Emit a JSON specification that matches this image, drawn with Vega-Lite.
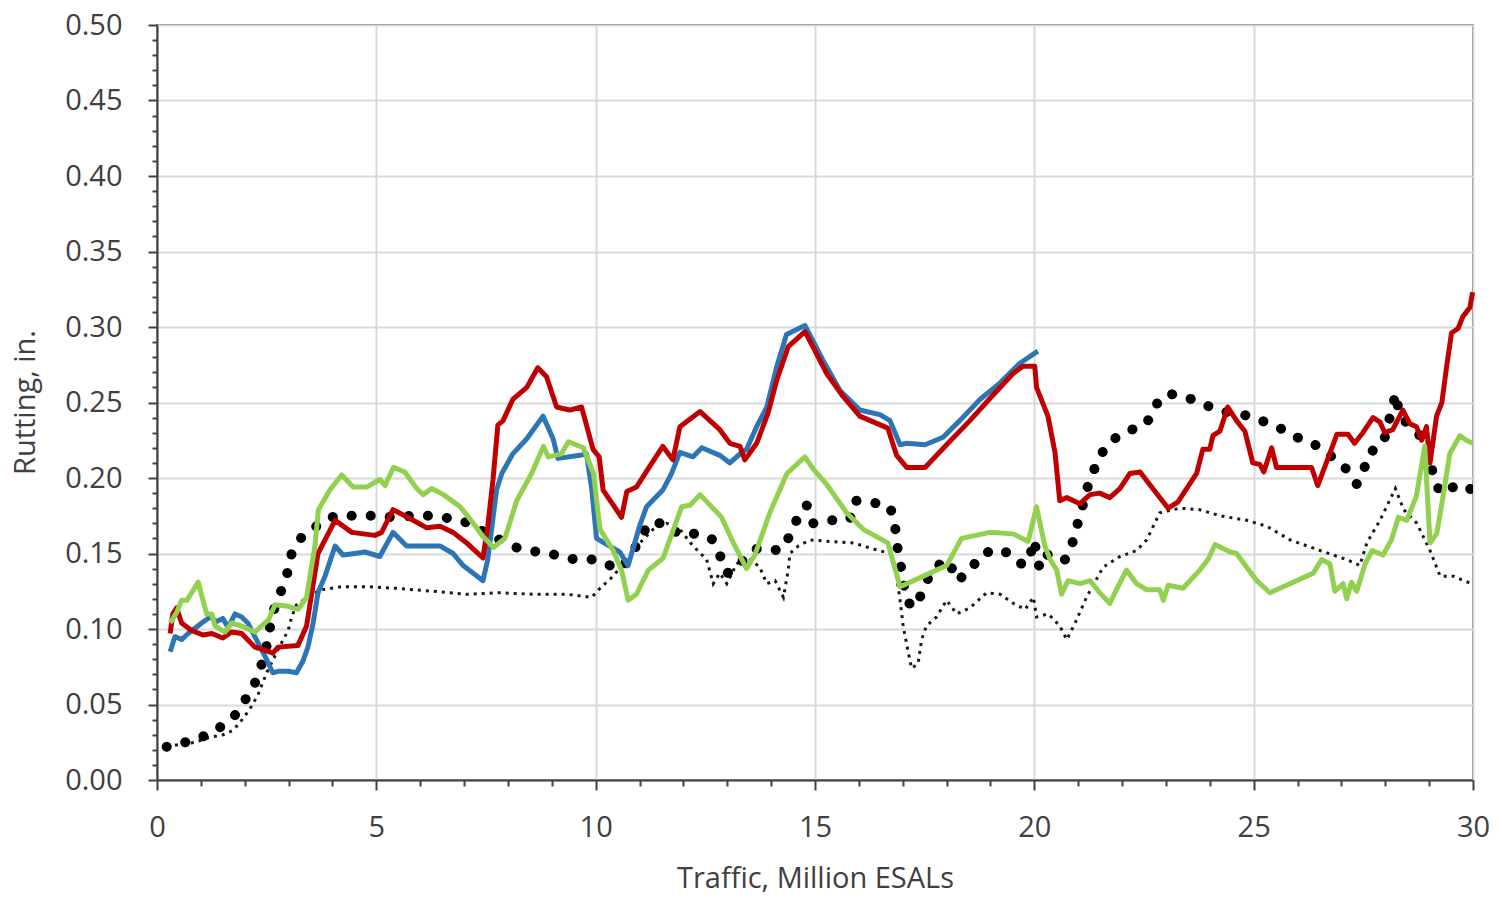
{
"$schema": "https://vega.github.io/schema/vega-lite/v6.json",
"width": 1316, "height": 755,
"autosize": {"type": "none"},
"padding": {"left": 157, "top": 25, "right": 26, "bottom": 121},
"background": "white",
"config": {"view": {"stroke": "#404040", "strokeWidth": 1.5}, "font": "Open Sans"},
"datasets": {
"blue": [{"x":0.30,"y":0.085},{"x":0.41,"y":0.095},{"x":0.56,"y":0.093},{"x":0.71,"y":0.097},{"x":1.02,"y":0.104},{"x":1.21,"y":0.108},{"x":1.36,"y":0.105},{"x":1.50,"y":0.107},{"x":1.62,"y":0.101},{"x":1.78,"y":0.110},{"x":1.93,"y":0.108},{"x":2.07,"y":0.104},{"x":2.23,"y":0.095},{"x":2.46,"y":0.082},{"x":2.64,"y":0.071},{"x":2.76,"y":0.072},{"x":2.99,"y":0.072},{"x":3.18,"y":0.071},{"x":3.33,"y":0.079},{"x":3.44,"y":0.088},{"x":3.56,"y":0.104},{"x":3.67,"y":0.124},{"x":3.83,"y":0.135},{"x":4.06,"y":0.155},{"x":4.24,"y":0.149},{"x":4.51,"y":0.150},{"x":4.74,"y":0.151},{"x":4.97,"y":0.149},{"x":5.08,"y":0.148},{"x":5.38,"y":0.164},{"x":5.69,"y":0.155},{"x":5.99,"y":0.155},{"x":6.45,"y":0.155},{"x":6.75,"y":0.150},{"x":6.98,"y":0.142},{"x":7.43,"y":0.132},{"x":7.54,"y":0.146},{"x":7.74,"y":0.192},{"x":7.86,"y":0.203},{"x":8.11,"y":0.216},{"x":8.43,"y":0.226},{"x":8.80,"y":0.241},{"x":9.03,"y":0.226},{"x":9.14,"y":0.213},{"x":9.64,"y":0.215},{"x":9.79,"y":0.216},{"x":9.91,"y":0.193},{"x":10.02,"y":0.160},{"x":10.25,"y":0.156},{"x":10.55,"y":0.151},{"x":10.74,"y":0.142},{"x":11.01,"y":0.169},{"x":11.16,"y":0.181},{"x":11.53,"y":0.192},{"x":11.73,"y":0.203},{"x":11.92,"y":0.217},{"x":12.22,"y":0.214},{"x":12.42,"y":0.220},{"x":12.83,"y":0.215},{"x":13.06,"y":0.210},{"x":13.29,"y":0.216},{"x":13.44,"y":0.219},{"x":13.67,"y":0.234},{"x":13.90,"y":0.247},{"x":14.13,"y":0.274},{"x":14.35,"y":0.295},{"x":14.77,"y":0.301},{"x":14.95,"y":0.291},{"x":15.18,"y":0.278},{"x":15.57,"y":0.258},{"x":16.02,"y":0.245},{"x":16.48,"y":0.242},{"x":16.71,"y":0.238},{"x":16.94,"y":0.222},{"x":17.09,"y":0.223},{"x":17.51,"y":0.222},{"x":17.92,"y":0.227},{"x":18.30,"y":0.238},{"x":18.76,"y":0.252},{"x":19.22,"y":0.263},{"x":19.67,"y":0.276},{"x":20.08,"y":0.284}],
"red": [{"x":0.30,"y":0.097},{"x":0.36,"y":0.110},{"x":0.45,"y":0.114},{"x":0.56,"y":0.104},{"x":0.79,"y":0.099},{"x":1.05,"y":0.096},{"x":1.25,"y":0.097},{"x":1.50,"y":0.094},{"x":1.70,"y":0.098},{"x":1.93,"y":0.097},{"x":2.23,"y":0.088},{"x":2.46,"y":0.086},{"x":2.64,"y":0.084},{"x":2.76,"y":0.088},{"x":3.21,"y":0.089},{"x":3.41,"y":0.102},{"x":3.67,"y":0.150},{"x":3.83,"y":0.159},{"x":4.06,"y":0.172},{"x":4.44,"y":0.164},{"x":4.97,"y":0.162},{"x":5.12,"y":0.164},{"x":5.38,"y":0.179},{"x":5.65,"y":0.175},{"x":5.84,"y":0.172},{"x":6.15,"y":0.167},{"x":6.45,"y":0.168},{"x":6.75,"y":0.164},{"x":7.06,"y":0.157},{"x":7.43,"y":0.147},{"x":7.54,"y":0.168},{"x":7.66,"y":0.199},{"x":7.77,"y":0.235},{"x":7.89,"y":0.238},{"x":8.11,"y":0.252},{"x":8.43,"y":0.260},{"x":8.68,"y":0.273},{"x":8.88,"y":0.267},{"x":9.11,"y":0.247},{"x":9.25,"y":0.246},{"x":9.41,"y":0.245},{"x":9.68,"y":0.247},{"x":9.94,"y":0.219},{"x":10.08,"y":0.214},{"x":10.17,"y":0.192},{"x":10.59,"y":0.174},{"x":10.71,"y":0.191},{"x":10.93,"y":0.194},{"x":11.24,"y":0.208},{"x":11.53,"y":0.221},{"x":11.76,"y":0.212},{"x":11.92,"y":0.234},{"x":12.38,"y":0.244},{"x":12.83,"y":0.232},{"x":13.06,"y":0.223},{"x":13.29,"y":0.221},{"x":13.40,"y":0.212},{"x":13.67,"y":0.223},{"x":13.93,"y":0.243},{"x":14.13,"y":0.265},{"x":14.39,"y":0.287},{"x":14.77,"y":0.297},{"x":14.95,"y":0.287},{"x":15.27,"y":0.269},{"x":15.64,"y":0.254},{"x":16.02,"y":0.241},{"x":16.66,"y":0.233},{"x":16.86,"y":0.215},{"x":17.09,"y":0.207},{"x":17.51,"y":0.207},{"x":18.00,"y":0.222},{"x":18.53,"y":0.238},{"x":19.06,"y":0.255},{"x":19.51,"y":0.269},{"x":19.74,"y":0.274},{"x":20.01,"y":0.274},{"x":20.05,"y":0.260},{"x":20.31,"y":0.241},{"x":20.47,"y":0.217},{"x":20.58,"y":0.185},{"x":20.74,"y":0.187},{"x":21.04,"y":0.183},{"x":21.27,"y":0.189},{"x":21.49,"y":0.190},{"x":21.72,"y":0.187},{"x":21.95,"y":0.193},{"x":22.18,"y":0.203},{"x":22.41,"y":0.204},{"x":22.70,"y":0.193},{"x":23.05,"y":0.180},{"x":23.27,"y":0.184},{"x":23.70,"y":0.203},{"x":23.84,"y":0.219},{"x":24.00,"y":0.219},{"x":24.07,"y":0.228},{"x":24.23,"y":0.231},{"x":24.41,"y":0.247},{"x":24.61,"y":0.238},{"x":24.80,"y":0.231},{"x":24.98,"y":0.210},{"x":25.14,"y":0.209},{"x":25.23,"y":0.204},{"x":25.41,"y":0.220},{"x":25.52,"y":0.207},{"x":26.32,"y":0.207},{"x":26.46,"y":0.195},{"x":26.72,"y":0.215},{"x":26.90,"y":0.229},{"x":27.15,"y":0.229},{"x":27.30,"y":0.223},{"x":27.49,"y":0.230},{"x":27.72,"y":0.240},{"x":27.88,"y":0.237},{"x":27.99,"y":0.230},{"x":28.17,"y":0.232},{"x":28.40,"y":0.245},{"x":28.56,"y":0.236},{"x":28.71,"y":0.234},{"x":28.83,"y":0.225},{"x":28.94,"y":0.234},{"x":29.02,"y":0.210},{"x":29.17,"y":0.241},{"x":29.29,"y":0.250},{"x":29.40,"y":0.274},{"x":29.51,"y":0.296},{"x":29.66,"y":0.299},{"x":29.77,"y":0.307},{"x":29.93,"y":0.313},{"x":29.99,"y":0.323}],
"green": [{"x":0.30,"y":0.104},{"x":0.45,"y":0.111},{"x":0.56,"y":0.119},{"x":0.68,"y":0.119},{"x":0.94,"y":0.131},{"x":1.13,"y":0.110},{"x":1.25,"y":0.110},{"x":1.32,"y":0.102},{"x":1.55,"y":0.098},{"x":1.70,"y":0.104},{"x":1.93,"y":0.102},{"x":2.23,"y":0.098},{"x":2.54,"y":0.106},{"x":2.69,"y":0.116},{"x":2.99,"y":0.115},{"x":3.22,"y":0.113},{"x":3.41,"y":0.121},{"x":3.60,"y":0.155},{"x":3.68,"y":0.179},{"x":3.94,"y":0.192},{"x":4.21,"y":0.202},{"x":4.47,"y":0.194},{"x":4.78,"y":0.194},{"x":5.08,"y":0.199},{"x":5.20,"y":0.195},{"x":5.39,"y":0.207},{"x":5.65,"y":0.204},{"x":5.92,"y":0.193},{"x":6.07,"y":0.189},{"x":6.26,"y":0.193},{"x":6.53,"y":0.189},{"x":6.91,"y":0.181},{"x":7.21,"y":0.170},{"x":7.44,"y":0.161},{"x":7.67,"y":0.154},{"x":7.93,"y":0.160},{"x":8.20,"y":0.185},{"x":8.54,"y":0.203},{"x":8.81,"y":0.221},{"x":8.92,"y":0.214},{"x":9.22,"y":0.216},{"x":9.38,"y":0.224},{"x":9.72,"y":0.220},{"x":9.95,"y":0.203},{"x":10.10,"y":0.166},{"x":10.40,"y":0.152},{"x":10.59,"y":0.139},{"x":10.74,"y":0.119},{"x":10.93,"y":0.123},{"x":11.20,"y":0.139},{"x":11.54,"y":0.147},{"x":11.96,"y":0.181},{"x":12.15,"y":0.182},{"x":12.38,"y":0.189},{"x":12.87,"y":0.174},{"x":13.14,"y":0.157},{"x":13.44,"y":0.140},{"x":13.63,"y":0.149},{"x":13.97,"y":0.177},{"x":14.36,"y":0.203},{"x":14.77,"y":0.214},{"x":14.96,"y":0.206},{"x":15.26,"y":0.196},{"x":15.72,"y":0.177},{"x":16.10,"y":0.166},{"x":16.66,"y":0.157},{"x":16.94,"y":0.128},{"x":17.47,"y":0.135},{"x":18.00,"y":0.142},{"x":18.34,"y":0.160},{"x":18.99,"y":0.164},{"x":19.52,"y":0.163},{"x":19.86,"y":0.158},{"x":20.05,"y":0.181},{"x":20.24,"y":0.155},{"x":20.36,"y":0.146},{"x":20.51,"y":0.139},{"x":20.62,"y":0.123},{"x":20.77,"y":0.132},{"x":21.04,"y":0.130},{"x":21.27,"y":0.132},{"x":21.49,"y":0.124},{"x":21.72,"y":0.117},{"x":21.87,"y":0.126},{"x":22.10,"y":0.139},{"x":22.33,"y":0.130},{"x":22.56,"y":0.126},{"x":22.86,"y":0.126},{"x":22.94,"y":0.119},{"x":23.05,"y":0.129},{"x":23.39,"y":0.127},{"x":23.77,"y":0.139},{"x":23.96,"y":0.146},{"x":24.12,"y":0.156},{"x":24.46,"y":0.151},{"x":24.61,"y":0.150},{"x":25.07,"y":0.132},{"x":25.37,"y":0.124},{"x":25.75,"y":0.129},{"x":26.36,"y":0.137},{"x":26.55,"y":0.146},{"x":26.74,"y":0.143},{"x":26.85,"y":0.125},{"x":27.04,"y":0.130},{"x":27.12,"y":0.120},{"x":27.23,"y":0.131},{"x":27.35,"y":0.125},{"x":27.54,"y":0.143},{"x":27.70,"y":0.152},{"x":27.95,"y":0.149},{"x":28.14,"y":0.159},{"x":28.30,"y":0.174},{"x":28.49,"y":0.172},{"x":28.71,"y":0.188},{"x":28.90,"y":0.221},{"x":29.02,"y":0.157},{"x":29.17,"y":0.163},{"x":29.28,"y":0.181},{"x":29.47,"y":0.216},{"x":29.70,"y":0.228},{"x":29.85,"y":0.225},{"x":29.99,"y":0.223}],
"dots": [{"x":0.22,"y":0.022},{"x":0.64,"y":0.025},{"x":1.06,"y":0.029},{"x":1.44,"y":0.035},{"x":1.78,"y":0.043},{"x":2.01,"y":0.053},{"x":2.23,"y":0.064},{"x":2.39,"y":0.077},{"x":2.50,"y":0.089},{"x":2.63,"y":0.110},{"x":2.84,"y":0.126},{"x":2.98,"y":0.138},{"x":3.07,"y":0.150},{"x":3.30,"y":0.161},{"x":3.68,"y":0.169},{"x":4.06,"y":0.175},{"x":4.51,"y":0.175},{"x":4.93,"y":0.175},{"x":5.39,"y":0.174},{"x":5.84,"y":0.175},{"x":6.30,"y":0.175},{"x":6.72,"y":0.173},{"x":7.13,"y":0.170},{"x":7.52,"y":0.163},{"x":7.89,"y":0.158},{"x":8.27,"y":0.153},{"x":8.69,"y":0.151},{"x":9.11,"y":0.149},{"x":9.53,"y":0.146},{"x":9.98,"y":0.146},{"x":10.33,"y":0.142},{"x":10.60,"y":0.140},{"x":11.01,"y":0.159},{"x":11.20,"y":0.170},{"x":11.58,"y":0.170},{"x":11.88,"y":0.163},{"x":12.30,"y":0.163},{"x":12.64,"y":0.160},{"x":12.83,"y":0.149},{"x":12.99,"y":0.137},{"x":13.10,"y":0.138},{"x":13.63,"y":0.153},{"x":13.93,"y":0.153},{"x":14.20,"y":0.152},{"x":14.39,"y":0.160},{"x":14.58,"y":0.172},{"x":14.81,"y":0.182},{"x":14.96,"y":0.170},{"x":15.38,"y":0.172},{"x":15.80,"y":0.173},{"x":15.91,"y":0.185},{"x":16.29,"y":0.184},{"x":16.71,"y":0.181},{"x":16.82,"y":0.170},{"x":16.86,"y":0.157},{"x":16.94,"y":0.145},{"x":17.01,"y":0.132},{"x":17.09,"y":0.119},{"x":17.24,"y":0.114},{"x":17.39,"y":0.121},{"x":17.66,"y":0.139},{"x":18.00,"y":0.146},{"x":18.11,"y":0.141},{"x":18.23,"y":0.132},{"x":18.53,"y":0.138},{"x":18.76,"y":0.149},{"x":19.14,"y":0.153},{"x":19.44,"y":0.150},{"x":19.75,"y":0.142},{"x":19.94,"y":0.152},{"x":20.01,"y":0.159},{"x":20.05,"y":0.147},{"x":20.13,"y":0.140},{"x":20.32,"y":0.150},{"x":20.70,"y":0.146},{"x":20.85,"y":0.155},{"x":20.96,"y":0.167},{"x":21.08,"y":0.179},{"x":21.19,"y":0.192},{"x":21.34,"y":0.204},{"x":21.50,"y":0.215},{"x":21.76,"y":0.225},{"x":22.14,"y":0.231},{"x":22.56,"y":0.236},{"x":22.75,"y":0.248},{"x":23.05,"y":0.256},{"x":23.51,"y":0.253},{"x":23.93,"y":0.248},{"x":24.31,"y":0.244},{"x":24.76,"y":0.242},{"x":25.18,"y":0.238},{"x":25.60,"y":0.233},{"x":25.98,"y":0.227},{"x":26.40,"y":0.222},{"x":26.74,"y":0.215},{"x":27.08,"y":0.207},{"x":27.35,"y":0.196},{"x":27.50,"y":0.204},{"x":27.61,"y":0.216},{"x":27.95,"y":0.223},{"x":28.07,"y":0.235},{"x":28.14,"y":0.247},{"x":28.26,"y":0.256},{"x":28.30,"y":0.243},{"x":28.53,"y":0.235},{"x":28.87,"y":0.226},{"x":29.10,"y":0.202},{"x":29.25,"y":0.190},{"x":29.55,"y":0.194},{"x":29.93,"y":0.194},{"x":30.00,"y":0.183}],
"thin": [{"x":0.41,"y":0.023},{"x":0.87,"y":0.025},{"x":1.17,"y":0.028},{"x":1.51,"y":0.030},{"x":1.74,"y":0.033},{"x":1.97,"y":0.041},{"x":2.16,"y":0.049},{"x":2.31,"y":0.057},{"x":2.39,"y":0.063},{"x":2.50,"y":0.071},{"x":2.77,"y":0.087},{"x":2.88,"y":0.093},{"x":2.99,"y":0.099},{"x":3.07,"y":0.108},{"x":3.18,"y":0.116},{"x":3.33,"y":0.119},{"x":3.53,"y":0.123},{"x":3.75,"y":0.126},{"x":4.21,"y":0.128},{"x":4.82,"y":0.128},{"x":5.43,"y":0.127},{"x":6.30,"y":0.125},{"x":7.06,"y":0.123},{"x":7.82,"y":0.124},{"x":8.58,"y":0.123},{"x":9.34,"y":0.123},{"x":9.91,"y":0.121},{"x":10.10,"y":0.127},{"x":10.40,"y":0.135},{"x":10.71,"y":0.146},{"x":11.01,"y":0.157},{"x":11.31,"y":0.166},{"x":11.62,"y":0.170},{"x":11.92,"y":0.166},{"x":12.22,"y":0.155},{"x":12.53,"y":0.146},{"x":12.68,"y":0.130},{"x":12.83,"y":0.137},{"x":12.99,"y":0.130},{"x":13.21,"y":0.143},{"x":13.44,"y":0.148},{"x":13.74,"y":0.141},{"x":13.90,"y":0.130},{"x":14.09,"y":0.132},{"x":14.28,"y":0.121},{"x":14.39,"y":0.139},{"x":14.43,"y":0.150},{"x":14.62,"y":0.155},{"x":14.89,"y":0.159},{"x":15.34,"y":0.158},{"x":15.87,"y":0.157},{"x":16.33,"y":0.153},{"x":16.71,"y":0.150},{"x":16.86,"y":0.135},{"x":16.94,"y":0.119},{"x":17.01,"y":0.102},{"x":17.13,"y":0.084},{"x":17.20,"y":0.074},{"x":17.35,"y":0.077},{"x":17.43,"y":0.093},{"x":17.54,"y":0.102},{"x":17.77,"y":0.108},{"x":18.00,"y":0.119},{"x":18.23,"y":0.110},{"x":18.53,"y":0.114},{"x":18.91,"y":0.124},{"x":19.22,"y":0.123},{"x":19.52,"y":0.117},{"x":19.79,"y":0.113},{"x":19.98,"y":0.121},{"x":20.05,"y":0.108},{"x":20.32,"y":0.110},{"x":20.58,"y":0.102},{"x":20.74,"y":0.093},{"x":20.93,"y":0.104},{"x":21.19,"y":0.121},{"x":21.57,"y":0.141},{"x":21.95,"y":0.148},{"x":22.33,"y":0.152},{"x":22.56,"y":0.159},{"x":22.86,"y":0.177},{"x":23.32,"y":0.180},{"x":23.77,"y":0.179},{"x":24.23,"y":0.175},{"x":24.84,"y":0.172},{"x":25.30,"y":0.168},{"x":25.83,"y":0.159},{"x":26.51,"y":0.152},{"x":27.12,"y":0.146},{"x":27.42,"y":0.142},{"x":27.58,"y":0.157},{"x":27.88,"y":0.172},{"x":28.23,"y":0.193},{"x":28.42,"y":0.179},{"x":28.72,"y":0.170},{"x":29.02,"y":0.152},{"x":29.25,"y":0.135},{"x":29.55,"y":0.135},{"x":29.96,"y":0.130}]
},
"encoding": {
"x": {"field": "x", "type": "quantitative",
 "scale": {"domain": [0, 30], "nice": false, "zero": false},
 "axis": {"title": "Traffic, Million ESALs",
  "values": [0,1,2,3,4,5,6,7,8,9,10,11,12,13,14,15,16,17,18,19,20,21,22,23,24,25,26,27,28,29,30],
  "labelExpr": "datum.value % 5 === 0 ? datum.label : ''",
  "grid": true, "gridColor": "#d9d9d9", "gridWidth": 2,
  "gridOpacity": {"condition": {"test": "datum.value % 5 === 0", "value": 1}, "value": 0},
  "tickSize": {"condition": {"test": "datum.value % 5 === 0", "value": 10}, "value": 6},
  "tickColor": "#404040", "tickWidth": 2, "domainColor": "#404040", "domainWidth": 2,
  "labelFont": "Open Sans", "labelFontSize": 29, "labelColor": "#404040", "labelPadding": 23, "labelFlush": false,
  "titleFont": "Open Sans", "titleFontSize": 29, "titleFontWeight": "normal", "titleColor": "#404040",
  "titleX": 658, "titleY": 98, "titleBaseline": "middle", "titleAnchor": "middle", "titleAlign": "center"}},
"y": {"field": "y", "type": "quantitative",
 "scale": {"domain": [0, 0.5], "nice": false},
 "axis": {"title": "Rutting, in.",
  "values": [0,0.01,0.02,0.03,0.04,0.05,0.06,0.07,0.08,0.09,0.1,0.11,0.12,0.13,0.14,0.15,0.16,0.17,0.18,0.19,0.2,0.21,0.22,0.23,0.24,0.25,0.26,0.27,0.28,0.29,0.3,0.31,0.32,0.33,0.34,0.35,0.36,0.37,0.38,0.39,0.4,0.41,0.42,0.43,0.44,0.45,0.46,0.47,0.48,0.49,0.5],
  "labelExpr": "round(datum.value*100) % 5 === 0 ? format(datum.value, '.2f') : ''",
  "grid": true, "gridColor": "#d9d9d9", "gridWidth": 2,
  "gridOpacity": {"condition": {"test": "round(datum.value*100) % 5 === 0", "value": 1}, "value": 0},
  "tickSize": {"condition": {"test": "round(datum.value*100) % 5 === 0", "value": 9}, "value": 5},
  "tickColor": "#404040", "tickWidth": 2, "domainColor": "#404040", "domainWidth": 2,
  "labelFont": "Open Sans", "labelFontSize": 29, "labelColor": "#404040", "labelPadding": 26,
  "titleFont": "Open Sans", "titleFontSize": 29, "titleFontWeight": "normal", "titleColor": "#404040",
  "titleX": -132, "titleY": 377, "titleBaseline": "middle", "titleAnchor": "middle", "titleAlign": "center"}}
},
"layer": [
 {"data": {"name": "thin"}, "mark": {"type": "line", "color": "#1a1a1a", "strokeWidth": 3, "strokeDash": [3, 5], "clip": true}},
 {"data": {"name": "dots"}, "mark": {"type": "line", "color": "#000000", "strokeWidth": 10, "strokeDash": [0.1, 19], "strokeCap": "round", "clip": true}},
 {"data": {"name": "blue"}, "mark": {"type": "line", "color": "#2E75B6", "strokeWidth": 5, "strokeJoin": "round"}},
 {"data": {"name": "red"}, "mark": {"type": "line", "color": "#C00000", "strokeWidth": 5, "strokeJoin": "round"}},
 {"data": {"name": "green"}, "mark": {"type": "line", "color": "#92D050", "strokeWidth": 5, "strokeJoin": "round"}}
]
}
